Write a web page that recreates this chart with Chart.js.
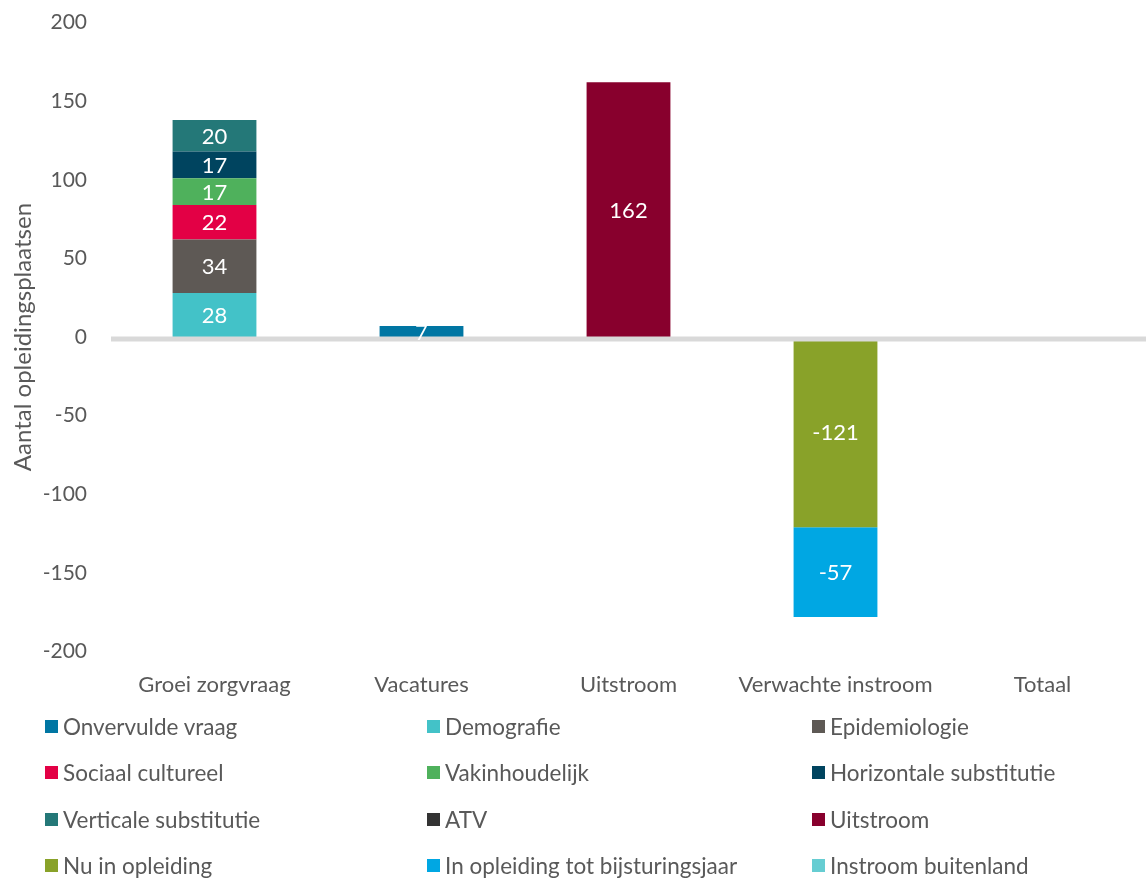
<!DOCTYPE html>
<html>
<head>
<meta charset="utf-8">
<script src="https://cdn.jsdelivr.net/npm/chart.js@4.4.1/dist/chart.umd.min.js"></script>
<style>
  html, body { margin: 0; padding: 0; background: #ffffff; }
  body { width: 1146px; height: 878px; position: relative; overflow: hidden; font-family: Lato, "Open Sans", sans-serif; }
  #wrap { position: absolute; left: 0; top: -14px; width: 1146px; height: 736px; }
  #legend { position: absolute; left: 0; top: 704px; width: 1146px; height: 174px; background: transparent; }
  .item { position: absolute; display: flex; align-items: center; font-size: 22.5px; color: #595959; white-space: nowrap; }
  .swatch { width: 13px; height: 13px; margin-right: 5px; flex: none; }
</style>
</head>
<body>
<div id="wrap"><canvas id="chart"></canvas></div>
<div id="legend"></div>
<script>
// Categories along the x axis
const categories = ['Groei zorgvraag', 'Vacatures', 'Uitstroom', 'Verwachte instroom', 'Totaal'];

// Component names in legend order
const seriesNames = [
  'Onvervulde vraag', 'Demografie', 'Epidemiologie',
  'Sociaal cultureel', 'Vakinhoudelijk', 'Horizontale substitutie',
  'Verticale substitutie', 'ATV', 'Uitstroom',
  'Nu in opleiding', 'In opleiding tot bijsturingsjaar', 'Instroom buitenland'
];

// Values per component (one entry per category)
const onvervuldeVraag   = [null, 7, null, null, null];
const demografie        = [28, null, null, null, null];
const epidemiologie     = [34, null, null, null, null];
const sociaalCultureel  = [22, null, null, null, null];
const vakinhoudelijk    = [17, null, null, null, null];
const horizontaleSubst  = [17, null, null, null, null];
const verticaleSubst    = [20, null, null, null, null];
const atv               = [null, null, null, null, null];
const uitstroom         = [null, null, 162, null, null];
const nuInOpleiding     = [null, null, null, -121, null];
const inOpleidingTot    = [null, null, null, -57, null];
const instroomBuitenland= [null, null, null, null, null];

// Y axis range and step
const yMin = -200, yMax = 200, yStep = 50;

const seriesValues = [
  onvervuldeVraag, demografie, epidemiologie,
  sociaalCultureel, vakinhoudelijk, horizontaleSubst,
  verticaleSubst, atv, uitstroom,
  nuInOpleiding, inOpleidingTot, instroomBuitenland
];
const seriesColors = [
  '#0076a3', '#43c2c8', '#5e5955',
  '#e30045', '#4fb15c', '#00445f',
  '#247878', '#333333', '#88002d',
  '#89a229', '#00a7e3', '#66cdd2'
];

const FONT = 'Lato, "Open Sans", sans-serif';

const datasets = seriesNames.map((name, i) => ({
  label: name,
  data: seriesValues[i],
  backgroundColor: seriesColors[i],
  borderWidth: 0,
  stack: 's',
  categoryPercentage: 1.0,
  barPercentage: 0.405
}));

// Thick grey line at zero, drawn over the bars like a category axis
const zeroLine = {
  id: 'zeroLine',
  afterDatasetsDraw(chart) {
    const { ctx, chartArea, scales } = chart;
    const y = scales.y.getPixelForValue(0) + 2;
    ctx.save();
    ctx.strokeStyle = '#d9d9d9';
    ctx.lineWidth = 5;
    ctx.beginPath();
    ctx.moveTo(chartArea.left, y);
    ctx.lineTo(chartArea.right, y);
    ctx.stroke();
    ctx.restore();
  }
};

// White value labels centred in each bar segment
const valueLabels = {
  id: 'valueLabels',
  afterDraw(chart) {
    const { ctx } = chart;
    ctx.save();
    ctx.fillStyle = '#ffffff';
    ctx.font = '22px ' + FONT;
    ctx.textAlign = 'center';
    ctx.textBaseline = 'middle';
    chart.data.datasets.forEach((ds, di) => {
      const meta = chart.getDatasetMeta(di);
      meta.data.forEach((bar, idx) => {
        const v = ds.data[idx];
        if (v === null || v === undefined) return;
        const y = (bar.y + bar.base) / 2;
        ctx.fillText(String(v), bar.x, y + 1);
      });
    });
    ctx.restore();
  }
};

const chart = new Chart(document.getElementById('chart'), {
  type: 'bar',
  data: { labels: categories, datasets },
  options: {
    responsive: true,
    maintainAspectRatio: false,
    animation: false,
    layout: { padding: { top: 10, right: 0, bottom: 4, left: 9 } },
    plugins: {
      legend: { display: false },
      tooltip: { enabled: false }
    },
    scales: {
      x: {
        stacked: true,
        grid: { display: false, drawTicks: false },
        border: { display: false },
        ticks: { color: '#595959', font: { family: FONT, size: 22 }, padding: 20, maxRotation: 0 }
      },
      y: {
        stacked: true,
        min: yMin, max: yMax,
        grid: { display: false, drawTicks: false },
        border: { display: false },
        ticks: { stepSize: yStep, color: '#595959', font: { family: FONT, size: 21 }, padding: 24 },
        title: { display: true, text: 'Aantal opleidingsplaatsen', color: '#595959', font: { family: FONT, size: 24 }, padding: { top: 0, bottom: 4 } },
        afterFit(scale) { scale.width = 102; }
      }
    }
  },
  plugins: [zeroLine, valueLabels]
});

// Legend laid out as a three-column grid
const legendEl = document.getElementById('legend');
const colX = [45, 427, 812];
const rowY = [22, 68, 115, 161];
seriesNames.forEach((name, i) => {
  const item = document.createElement('div');
  item.className = 'item';
  item.style.left = colX[i % 3] + 'px';
  item.style.top = (rowY[Math.floor(i / 3)] - 13) + 'px';
  item.style.height = '26px';
  const sw = document.createElement('span');
  sw.className = 'swatch';
  sw.style.background = seriesColors[i];
  const tx = document.createElement('span');
  tx.textContent = name;
  item.appendChild(sw);
  item.appendChild(tx);
  legendEl.appendChild(item);
});
</script>
</body>
</html>
